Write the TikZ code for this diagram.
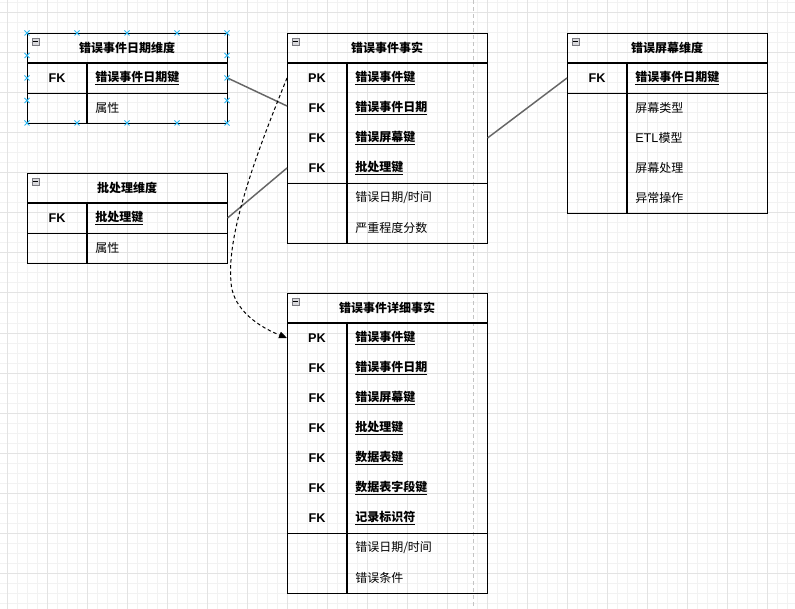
\documentclass[tikz,border=0pt]{standalone}
\usepackage{fontspec}
\setmainfont{Noto Sans CJK SC}
\newfontfamily\latinf{Liberation Sans}
\usetikzlibrary{arrows.meta}
\definecolor{gridminor}{HTML}{F2F2F2}
\definecolor{gridmajor}{HTML}{E3E3E3}
\definecolor{selblue}{HTML}{29B6F2}
\definecolor{conn}{HTML}{666666}
\definecolor{pagedash}{HTML}{C4C4C4}
\definecolor{iconfill}{HTML}{D8D8DC}
\definecolor{icondraw}{HTML}{7A7A80}
\tikzset{
  tbl/.style={draw=black, line width=0.9pt, minimum width=150pt, inner sep=0pt},
  hdr/.style={font=\bfseries\fontsize{9pt}{10pt}\selectfont, inner sep=0pt},
  keylbl/.style={font=\latinf\bfseries\fontsize{9.5pt}{10pt}\selectfont, inner sep=0pt},
  attr/.style={font=\fontsize{9pt}{10pt}\selectfont, anchor=west, inner sep=0pt},
  rowbox/.style={minimum width=150pt, minimum height=22.5pt, inner sep=0pt},
  sepline/.style={draw=black, line width=0.9pt},
  link/.style={draw=conn, line width=1.1pt},
  fkdash/.style={draw=black, line width=0.75pt, dash pattern=on 2.6pt off 2pt,
                 -{Triangle[length=6pt,width=5pt]}},
  selmark/.style={draw=selblue, line width=0.6pt},
}
\newcommand{\ertable}[5]{% name, left x, top y, height px, title
  \node[tbl, minimum height={#4*0.75pt}, anchor=north west] (#1) at (#2,#3) {};
  \node[hdr] (#1h) at ([xshift=75pt,yshift=-11.25pt]#1.north west) {#5};
  \draw[sepline] ([yshift=-22.5pt]#1.north west) -- ([yshift=-22.5pt]#1.north east);
  \draw[sepline] ([xshift=45pt,yshift=-22.5pt]#1.north west) -- ([xshift=45pt]#1.south west);
  \draw[fill=iconfill, draw=icondraw, line width=0.4pt]
    ([xshift=3.75pt,yshift=-3.75pt]#1.north west) rectangle ++(5.6pt,-5.25pt);
  \draw[line width=0.6pt] ([xshift=4.7pt,yshift=-6.375pt]#1.north west) -- ++(3.7pt,0);
}
\newcommand{\errow}[5]{% row name, left x, center y, key, attribute
  \node[rowbox, anchor=west] (#1) at (#2,#3) {};
  \node[keylbl] (#1k) at ([xshift=22.5pt]#1.west) {#4};
  \node[attr] (#1a) at ([xshift=51pt]#1.west) {#5};
}
\newcommand{\ukey}[1]{\underline{\textbf{#1}}}
\begin{document}
\begin{tikzpicture}[x=0.75pt,y=-0.75pt]
\useasboundingbox (0,0) rectangle (795,609);
\fill[white] (0,0) rectangle (795,609);
% grid
\foreach \x in {7,17,...,787} \draw[gridminor, line width=0.75pt] (\x,0) -- (\x,609);
\foreach \y in {3,13,...,603} \draw[gridminor, line width=0.75pt] (0,\y) -- (795,\y);
\foreach \x in {7,47,...,787} \draw[gridmajor, line width=0.75pt] (\x,0) -- (\x,609);
\foreach \y in {13,53,...,573} \draw[gridmajor, line width=0.75pt] (0,\y) -- (795,\y);
% page break line
\draw[pagedash, line width=0.75pt, dash pattern=on 3pt off 2.25pt] (473,0) -- (473,609);

% T1
\ertable{t1}{27}{33}{90}{错误事件日期维度}
\errow{t1r1}{27}{78}{FK}{\ukey{错误事件日期键}}
\errow{t1r2}{27}{108}{}{属性}
\draw[sepline] (t1r1.south west) -- (t1r1.south east);

% T2
\ertable{t2}{287}{33}{210}{错误事件事实}
\errow{t2r1}{287}{78}{PK}{\ukey{错误事件键}}
\errow{t2r2}{287}{108}{FK}{\ukey{错误事件日期}}
\errow{t2r3}{287}{138}{FK}{\ukey{错误屏幕键}}
\errow{t2r4}{287}{168}{FK}{\ukey{批处理键}}
\errow{t2r5}{287}{198}{}{错误日期/时间}
\errow{t2r6}{287}{228}{}{严重程度分数}
\draw[sepline] (t2r4.south west) -- (t2r4.south east);

% T3
\ertable{t3}{567}{33}{180}{错误屏幕维度}
\errow{t3r1}{567}{78}{FK}{\ukey{错误事件日期键}}
\errow{t3r2}{567}{108}{}{屏幕类型}
\errow{t3r3}{567}{138}{}{{\latinf\fontsize{9.5pt}{10pt}\selectfont ETL}模型}
\errow{t3r4}{567}{168}{}{屏幕处理}
\errow{t3r5}{567}{198}{}{异常操作}
\draw[sepline] (t3r1.south west) -- (t3r1.south east);

% T4
\ertable{t4}{27}{173}{90}{批处理维度}
\errow{t4r1}{27}{218}{FK}{\ukey{批处理键}}
\errow{t4r2}{27}{248}{}{属性}
\draw[sepline] (t4r1.south west) -- (t4r1.south east);

% T5
\ertable{t5}{287}{293}{300}{错误事件详细事实}
\errow{t5r1}{287}{338}{PK}{\ukey{错误事件键}}
\errow{t5r2}{287}{368}{FK}{\ukey{错误事件日期}}
\errow{t5r3}{287}{398}{FK}{\ukey{错误屏幕键}}
\errow{t5r4}{287}{428}{FK}{\ukey{批处理键}}
\errow{t5r5}{287}{458}{FK}{\ukey{数据表键}}
\errow{t5r6}{287}{488}{FK}{\ukey{数据表字段键}}
\errow{t5r7}{287}{518}{FK}{\ukey{记录标识符}}
\errow{t5r8}{287}{548}{}{错误日期/时间}
\errow{t5r9}{287}{578}{}{错误条件}
\draw[sepline] (t5r7.south west) -- (t5r7.south east);

% connectors
\draw[link] (t1r1.east) -- ([yshift=1.5pt]t2r2.west);
\draw[link] (t4r1.east) -- (t2r4.west);
\draw[link] (t2r3.east) -- (t3r1.east -| t3r1.west);
\draw[fkdash] (t2r1.west) .. controls (262,140) and (226,230) .. (231,282)
  .. controls (232,305) and (252,324) .. (t5r1.west);

% selection markers on T1
\foreach \px in {27,77,127,177,227} {
  \foreach \py in {33,123} {
    \draw[selmark] (\px-2.5,\py-2.5) -- (\px+2.5,\py+2.5) (\px-2.5,\py+2.5) -- (\px+2.5,\py-2.5);
  }
}
\foreach \px in {27,227} {
  \foreach \py in {55.5,78,100.5} {
    \draw[selmark] (\px-2.5,\py-2.5) -- (\px+2.5,\py+2.5) (\px-2.5,\py+2.5) -- (\px+2.5,\py-2.5);
  }
}
\end{tikzpicture}
\end{document}
